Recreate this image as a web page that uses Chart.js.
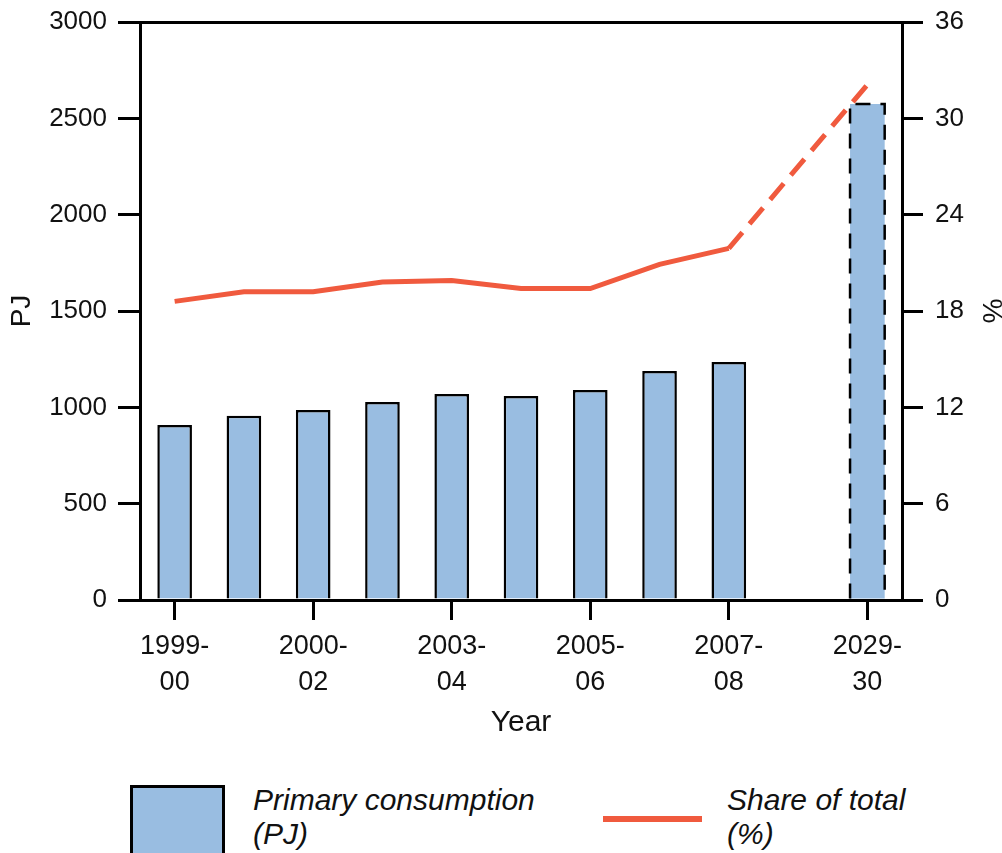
<!DOCTYPE html>
<html>
<head>
<meta charset="utf-8">
<script src="https://cdn.jsdelivr.net/npm/chart.js@4.4.1/dist/chart.umd.min.js"></script>
<style>
  html, body { margin: 0; padding: 0; background: #fff; }
  #wrap { position: relative; width: 1002px; height: 853px; overflow: hidden; }
  #chart { position: absolute; left: 0; top: 0; }
  .key-box { position: absolute; left: 130px; top: 785px; width: 95px; height: 90px;
    box-sizing: border-box; border: 3px solid #000; background: #99bde1; }
  .key-line { position: absolute; left: 603px; top: 816px; width: 99px; height: 6px; background: #f05a3e; }
  .key-text { position: absolute; top: 783px; font: italic 30px "Liberation Sans", Arial, sans-serif;
    line-height: 34px; color: #111; }
</style>
</head>
<body>
<div id="wrap">
  <canvas id="chart" width="1002" height="760"></canvas>
  <div class="key-box"></div>
  <div class="key-text" style="left:253px">Primary consumption<br>(PJ)</div>
  <div class="key-line"></div>
  <div class="key-text" style="left:727px">Share of total<br>(%)</div>
</div>
<script>
  // categories (index 9 is the spacer before the projection year)
  const years = ['1999-00', '2000-01', '2000-02', '2002-03', '2003-04', '2004-05',
    '2005-06', '2006-07', '2007-08', '', '2029-30'];
  const consumptionPJ = [908, 956, 986, 1028, 1069, 1059, 1090, 1189, 1235, null, 2575];
  const sharePct = [18.6, 19.2, 19.2, 19.8, 19.9, 19.4, 19.4, 20.9, 21.9, null, 32.1];
  const pjTicks = [0, 500, 1000, 1500, 2000, 2500, 3000];
  const pctTicks = [0, 6, 12, 18, 24, 30, 36];

  const PROJ = years.length - 1;
  const FONT = '"Liberation Sans", Arial, sans-serif';
  const BLUE = '#99bde1';
  const RED = '#f05a3e';

  // projected bar gets a dashed outline (bars have no borderDash of their own)
  const dashedBar = {
    id: 'dashedBar',
    afterDatasetDraw(chart, args) {
      if (args.index !== 0) return;
      const el = args.meta.data[PROJ];
      if (!el) return;
      const { x, y, base, width } = el.getProps(['x', 'y', 'base', 'width'], true);
      const c = chart.ctx;
      c.save();
      c.strokeStyle = '#000';
      c.lineWidth = 2.5;
      c.setLineDash([15, 10]);
      c.beginPath();
      c.moveTo(x - width / 2, base);
      c.lineTo(x - width / 2, y);
      c.lineTo(x + width / 2, y);
      c.lineTo(x + width / 2, base);
      c.stroke();
      c.restore();
    }
  };

  const tickGrid = (len) => ({
    drawOnChartArea: false, drawTicks: true, tickLength: len, color: '#000', lineWidth: 3
  });

  // fixed side width, and no extra room reserved for the end labels
  const fitSide = (w) => (s) => { s.width = w; s.paddingTop = 0; s.paddingBottom = 0; };

  new Chart(document.getElementById('chart'), {
    type: 'bar',
    data: {
      labels: years,
      datasets: [{
        type: 'bar',
        label: 'Primary consumption (PJ)',
        data: consumptionPJ,
        yAxisID: 'y',
        backgroundColor: BLUE,
        borderColor: '#000',
        borderWidth: (ctx) => ctx.dataIndex === PROJ ? 0 : 2.5,
        borderSkipped: 'bottom',
        categoryPercentage: 1,
        barPercentage: 0.5,
        order: 1
      }, {
        type: 'line',
        label: 'Share of total (%)',
        data: sharePct,
        yAxisID: 'y1',
        borderColor: RED,
        borderWidth: 5,
        pointRadius: 0,
        tension: 0,
        spanGaps: true,
        segment: {
          borderDash: (ctx) => ctx.p1DataIndex === PROJ ? [21, 11] : undefined
        },
        order: 0
      }]
    },
    options: {
      responsive: false,
      animation: false,
      devicePixelRatio: 1,
      layout: { padding: { top: 22, left: 0, right: 0, bottom: 0 } },
      plugins: { legend: { display: false }, tooltip: { enabled: false } },
      scales: {
        x: {
          position: 'bottom',
          offset: true,
          grid: Object.assign(tickGrid(20), {
            offset: false,
            color: (ctx) => ctx.index % 2 === 0 ? '#000' : 'rgba(0,0,0,0)'
          }),
          border: { display: true, color: '#000', width: 3 },
          ticks: {
            autoSkip: false, maxRotation: 0, padding: 9, color: '#111',
            font: { family: FONT, size: 27, lineHeight: 1.33 },
            callback: function (v, i) {
              const s = years[i];
              if (i % 2 !== 0 || !s) return '';
              const p = s.split('-');
              return [p[0] + '-', p[1]];
            }
          },
          title: {
            display: true, text: 'Year', color: '#111',
            font: { family: FONT, size: 30, lineHeight: 1.2 },
            padding: { top: 0, bottom: 19 }
          },
          afterFit: (s) => { s.height = 160; s.paddingLeft = 0; s.paddingRight = 0; }
        },
        xTop: {
          type: 'category',
          position: 'top',
          offset: true,
          grid: { display: false, drawTicks: false },
          border: { display: true, color: '#000', width: 3 },
          ticks: { display: false },
          afterFit: (s) => { s.height = 0; }
        },
        y: {
          position: 'left',
          min: 0, max: 3000,
          grid: tickGrid(22),
          border: { display: true, color: '#000', width: 3 },
          afterBuildTicks: (s) => { s.ticks = pjTicks.map(v => ({ value: v })); },
          ticks: { padding: 11, color: '#111', font: { family: FONT, size: 26 }, callback: (v) => String(v) },
          title: {
            display: true, text: 'PJ', color: '#111',
            font: { family: FONT, size: 28, lineHeight: 1.2 },
            padding: { top: 5, bottom: 0 }
          },
          afterFit: fitSide(140)
        },
        y1: {
          position: 'right',
          min: 0, max: 36,
          grid: tickGrid(21),
          border: { display: true, color: '#000', width: 3 },
          afterBuildTicks: (s) => { s.ticks = pctTicks.map(v => ({ value: v })); },
          ticks: { padding: 12, color: '#111', font: { family: FONT, size: 26 }, callback: (v) => String(v) },
          title: {
            display: true, text: '%', color: '#111',
            font: { family: FONT, size: 28, lineHeight: 0.8 },
            padding: { top: 0, bottom: 0 }
          },
          afterFit: fitSide(100)
        }
      }
    },
    plugins: [dashedBar]
  });
</script>
</body>
</html>
